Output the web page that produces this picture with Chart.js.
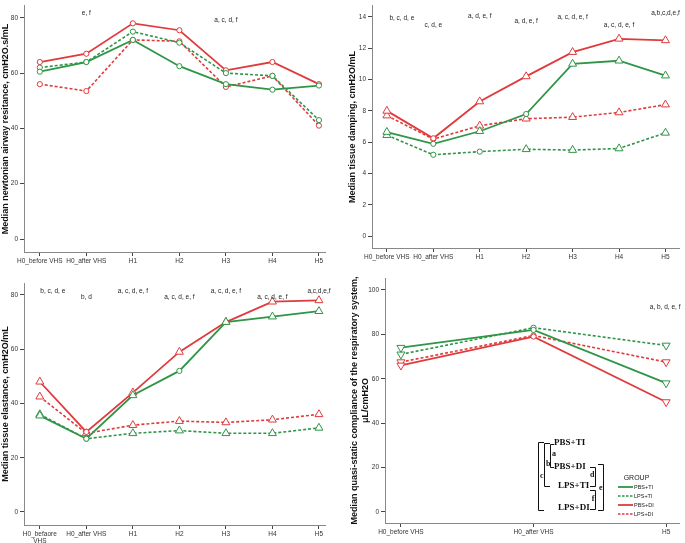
<!DOCTYPE html>
<html>
<head>
<meta charset="utf-8">
<script src="https://cdn.jsdelivr.net/npm/chart.js@4.4.1/dist/chart.umd.min.js"></script>
<style>
  body { margin: 0; background: #fff; width: 685px; height: 543px; position: relative; overflow: hidden; }
  .panel { position: absolute; }
</style>
</head>
<body>
<div class="panel" style="left:0;top:0;width:342px;height:270px"><canvas id="res"></canvas></div>
<div class="panel" style="left:342px;top:0;width:343px;height:270px"><canvas id="damp"></canvas></div>
<div class="panel" style="left:0;top:270px;width:342px;height:273px"><canvas id="elast"></canvas></div>
<div class="panel" style="left:342px;top:270px;width:343px;height:273px"><canvas id="cst"></canvas></div>
<script>
// time points
const categories = ["H0_before VHS", "H0_after VHS", "H1", "H2", "H3", "H4", "H5"];
const categoriesElast = [["H0_befaore", "VHS"], "H0_after VHS", "H1", "H2", "H3", "H4", "H5"];
const categoriesCst = ["H0_before VHS", "H0_after VHS", "H5"];

// newtonian airway resistance
const resPbsTi = [60.5, 64, 72, 62.5, 56, 54, 55.5];
const resLpsTi = [62, 64, 75, 71, 60, 59, 43];
const resPbsDi = [64, 67, 78, 75.5, 61, 64, 56];
const resLpsDi = [56, 53.5, 72, 71.5, 55, 59, 41];
const resTicks = [0, 20, 40, 60, 80];
const resLetters = ["", "e, f", "", "", "a, c, d, f", "", ""];

// tissue damping
const dampPbsTi = [6.65, 5.9, 6.7, 7.8, 11, 11.2, 10.25];
const dampLpsTi = [6.45, 5.2, 5.4, 5.55, 5.5, 5.6, 6.6];
const dampPbsDi = [8.0, 6.25, 8.6, 10.2, 11.75, 12.6, 12.5];
const dampLpsDi = [7.7, 6.2, 7.05, 7.5, 7.6, 7.9, 8.4];
const dampTicks = [0, 2, 4, 6, 8, 10, 12, 14];
const dampLetters = ["b, c, d, e", "c, d, e", "a, d, e, f", "a, d, e, f", "a, c, d, e, f", "a, c, d, e, f", "a,b,c,d,e,f"];

// tissue elastance
const elPbsTi = [35.5, 27, 43, 52, 70, 72, 74];
const elLpsTi = [36, 27, 29, 30, 29, 29, 31];
const elPbsDi = [48, 29.5, 44, 59, 70, 77.5, 78];
const elLpsDi = [42.5, 29, 32, 33.5, 33, 34, 36];
const elTicks = [0, 20, 40, 60, 80];
const elLetters = ["b, c, d, e", "b, d", "a, c, d, e, f", "a, c, d, e, f", "a, c, d, e, f", "a, c, d, e, f", "a,c,d,e,f"];

// quasi-static compliance
const cstPbsTi = [74, 82, 58];
const cstLpsTi = [71, 83, 75];
const cstPbsDi = [66, 79, 49.5];
const cstLpsDi = [67.5, 79.5, 67.5];
const cstTicks = [0, 20, 40, 60, 80, 100];
const cstLetters = ["", "", "a, b, d, e, f"];

const GREEN = "#2f9547";
const RED = "#e03a3c";
const FONT = "'Liberation Sans', Arial, sans-serif";

// marker shapes: o = small circle, t = triangle, v = triangle down
function series(values, color, dashed, shapes) {
  return {
    data: values.map((v, i) => ({ x: i, y: v })),
    borderColor: color,
    borderWidth: dashed ? 1.6 : 1.8,
    borderDash: dashed ? [3, 2] : [],
    pointBackgroundColor: "#fff",
    pointBorderColor: color,
    pointBorderWidth: 1,
    pointStyle: shapes.map(s => s === "o" ? "circle" : "triangle"),
    pointRotation: shapes.map(s => s === "v" ? 180 : 0),
    pointRadius: shapes.map(s => s === "o" ? 2.6 : 4.6),
    tension: 0,
    clip: false,
  };
}

const letterPlugin = {
  id: "letters",
  afterDatasetsDraw(chart, args, opts) {
    if (!opts.labels) return;
    const { ctx } = chart;
    const x = chart.scales.x;
    ctx.save();
    ctx.font = `6.5px ${FONT}`;
    ctx.fillStyle = "#222";
    ctx.textAlign = "center";
    ctx.textBaseline = "middle";
    opts.labels.forEach((t, i) => {
      if (t) ctx.fillText(t, x.getPixelForValue(i) + (opts.dx[i] || 0), opts.ys[i]);
    });
    ctx.restore();
  },
};

function makeChart(id, cfg) {
  const tickFont = { size: 6.5, family: FONT };
  return new Chart(document.getElementById(id), {
    type: "line",
    data: { datasets: cfg.datasets },
    options: {
      responsive: true,
      maintainAspectRatio: false,
      animation: false,
      layout: { padding: { top: cfg.top, right: cfg.right, left: 0, bottom: 0 } },
      plugins: { legend: { display: false }, tooltip: { enabled: false }, letters: cfg.letters },
      scales: {
        x: {
          type: "linear",
          min: cfg.xMin,
          max: cfg.xMax,
          afterBuildTicks: s => { s.ticks = cfg.labels.map((_, i) => ({ value: i })); },
          afterFit: s => { s.height = cfg.bottom; },
          ticks: { callback: v => cfg.labels[v], font: tickFont, color: "#333", maxRotation: 0, autoSkip: false, padding: 1 },
          grid: { drawOnChartArea: false, tickLength: 4, color: "#444" },
          border: { color: "#888" },
        },
        y: {
          min: cfg.yMin,
          max: cfg.yMax,
          afterBuildTicks: s => { s.ticks = cfg.yTicks.map(v => ({ value: v })); },
          afterFit: s => { s.width = cfg.left; },
          ticks: { font: tickFont, color: "#333", padding: 2 },
          grid: { drawOnChartArea: false, tickLength: 4, color: "#444" },
          border: { color: "#888" },
          title: {
            display: true,
            text: cfg.title,
            font: { size: 9, weight: "bold", family: FONT },
            color: "#111",
            padding: { top: cfg.titlePad, bottom: 0 },
          },
        },
      },
    },
    plugins: cfg.plugins || [letterPlugin],
  });
}

makeChart("res", {
  datasets: [
    series(resPbsTi, GREEN, false, Array(7).fill("o")),
    series(resLpsTi, GREEN, true, Array(7).fill("o")),
    series(resPbsDi, RED, false, Array(7).fill("o")),
    series(resLpsDi, RED, true, Array(7).fill("o")),
  ],
  labels: categories, yTicks: resTicks,
  xMin: -0.34, xMax: 6.13, yMin: -4.7, yMax: 84.3,
  top: 5, right: 17, bottom: 18, left: 24, titlePad: 0,
  title: "Median newtonian airway resitance, cmH2O.s/mL",
  letters: { labels: resLetters, dx: [], ys: [0, 13, 0, 0, 20, 0, 0] },
});

makeChart("damp", {
  datasets: [
    series(dampPbsTi, GREEN, false, ["t", "o", "t", "o", "t", "t", "t"]),
    series(dampLpsTi, GREEN, true, ["t", "o", "o", "t", "t", "t", "t"]),
    series(dampPbsDi, RED, false, ["t", "o", "t", "t", "t", "t", "t"]),
    series(dampLpsDi, RED, true, ["t", "o", "t", "t", "t", "t", "t"]),
  ],
  labels: categories, yTicks: dampTicks,
  xMin: -0.32, xMax: 6.3, yMin: -0.75, yMax: 14.7,
  top: 2, right: 5, bottom: 22, left: 30, titlePad: 5,
  title: "Median tissue damping, cmH2O/mL",
  letters: { labels: dampLetters, dx: [15], ys: [18, 25, 16, 21, 17, 25, 13] },
});

makeChart("elast", {
  datasets: [
    series(elPbsTi, GREEN, false, ["t", "o", "t", "o", "t", "t", "t"]),
    series(elLpsTi, GREEN, true, ["t", "o", "t", "t", "t", "t", "t"]),
    series(elPbsDi, RED, false, ["t", "o", "t", "t", "t", "t", "t"]),
    series(elLpsDi, RED, true, ["t", "t", "t", "t", "t", "t", "t"]),
  ],
  labels: categoriesElast, yTicks: elTicks,
  xMin: -0.34, xMax: 6.13, yMin: -4.8, yMax: 84.4,
  top: 13, right: 17, bottom: 18, left: 24, titlePad: 0,
  title: "Median tissue elastance, cmH2O/mL",
  letters: { labels: elLetters, dx: [13], ys: [21, 27, 21, 27, 21, 27, 21] },
});

// bracket diagram of group comparisons + legend
const bracketPlugin = {
  id: "brackets",
  afterDraw(chart) {
    const ctx = chart.ctx;
    ctx.save();
    ctx.strokeStyle = "#111";
    ctx.lineWidth = 1;
    ctx.fillStyle = "#111";
    const seg = pts => {
      ctx.beginPath();
      ctx.moveTo(pts[0][0], pts[0][1]);
      pts.slice(1).forEach(p => ctx.lineTo(p[0], p[1]));
      ctx.stroke();
    };
    // left brackets
    seg([[202, 172.5], [196.5, 172.5], [196.5, 240.5], [202, 240.5]]);
    seg([[208, 173.5], [202.5, 173.5], [202.5, 216.5], [208, 216.5]]);
    seg([[212, 174.5], [208.5, 174.5], [208.5, 197.5], [212, 197.5]]);
    // right brackets
    seg([[248, 197.5], [253.5, 197.5], [253.5, 216.5], [248, 216.5]]);
    seg([[248, 220.5], [253.5, 220.5], [253.5, 239.5], [248, 239.5]]);
    seg([[256, 194.5], [261.5, 194.5], [261.5, 240.5], [256, 240.5]]);

    ctx.font = "bold 9px 'Liberation Serif', 'DejaVu Serif', serif";
    ctx.textAlign = "left";
    ctx.textBaseline = "middle";
    ctx.fillText("PBS+TI", 212, 173);
    ctx.fillText("PBS+DI", 212, 197);
    ctx.fillText("LPS+TI", 216, 216);
    ctx.fillText("LPS+DI", 216, 238);
    ctx.font = "bold 8px 'Liberation Serif', 'DejaVu Serif', serif";
    ctx.fillText("c", 198, 206);
    ctx.fillText("b", 204, 194);
    ctx.fillText("a", 210, 184);
    ctx.textAlign = "right";
    ctx.fillText("d", 252.5, 205);
    ctx.fillText("f", 252.5, 229);
    ctx.fillText("e", 260.5, 218);

    // legend
    ctx.textAlign = "center";
    ctx.font = `7px ${FONT}`;
    ctx.fillStyle = "#222";
    ctx.fillText("GROUP", 294.5, 208);
    const items = [["PBS+TI", GREEN, false], ["LPS+TI", GREEN, true], ["PBS+DI", RED, false], ["LPS+DI", RED, true]];
    ctx.textAlign = "left";
    ctx.font = `5.5px ${FONT}`;
    items.forEach(([name, color, dashed], i) => {
      const y = 217 + i * 9;
      ctx.strokeStyle = color;
      ctx.lineWidth = dashed ? 1.4 : 1.8;
      ctx.setLineDash(dashed ? [2.5, 1.5] : []);
      ctx.beginPath();
      ctx.moveTo(276, y);
      ctx.lineTo(291, y);
      ctx.stroke();
      ctx.fillText(name, 292, y);
    });
    ctx.restore();
  },
};

makeChart("cst", {
  datasets: [
    series(cstPbsTi, GREEN, false, ["v", "o", "v"]),
    series(cstLpsTi, GREEN, true, ["v", "o", "v"]),
    series(cstPbsDi, RED, false, ["v", "o", "v"]),
    series(cstLpsDi, RED, true, ["v", "o", "v"]),
  ],
  labels: categoriesCst, yTicks: cstTicks,
  xMin: -0.12, xMax: 2.1, yMin: -5, yMax: 105.4,
  top: 8, right: 3, bottom: 20, left: 43, titlePad: 7,
  title: ["Median quasi-static compliance of the respiratory system,", "μL/cmH2O"],
  letters: { labels: cstLetters, dx: [0, 0, -1], ys: [0, 0, 37] },
  plugins: [letterPlugin, bracketPlugin],
});
</script>
</body>
</html>
